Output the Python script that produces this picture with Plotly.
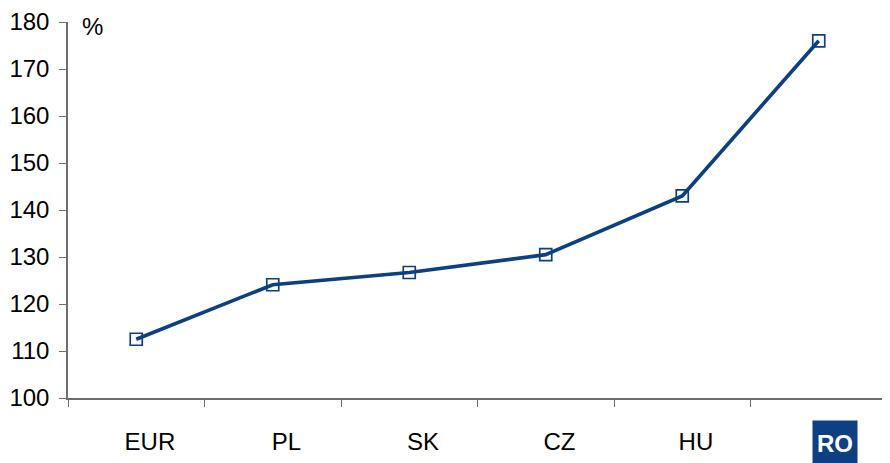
import plotly.graph_objects as go

categories = ["EUR", "PL", "SK", "CZ", "HU", "RO"]
values = [112.5, 124.1, 126.7, 130.5, 143.0, 176.0]
y_ticks = [100, 110, 120, 130, 140, 150, 160, 170, 180]
unit_label = "%"
highlight = "RO"

navy = "#0d3f83"
axis_col = "#6e6e6e"
font_fam = "Liberation Sans, Arial, sans-serif"
fs = 24

fig = go.Figure()
fig.add_trace(go.Scatter(
    x=categories, y=values, mode="lines+markers",
    line=dict(color=navy, width=3.6),
    marker=dict(symbol="square-open", size=12, color=navy, line=dict(width=1.7, color=navy)),
    showlegend=False, cliponaxis=False, hoverinfo="skip",
))
# invisible trace carrying the (slightly offset) category label axis
fig.add_trace(go.Scatter(
    x=categories, y=values, xaxis="x2", mode="markers",
    marker=dict(opacity=0), showlegend=False, hoverinfo="skip",
))

ticktext = ["" if c == highlight else c for c in categories]

fig.update_layout(
    width=882, height=455,
    margin=dict(l=60, r=3, t=14, b=65, autoexpand=False),
    paper_bgcolor="white", plot_bgcolor="white",
    font=dict(family=font_fam, size=fs, color="#000"),
    xaxis=dict(
        type="category", categoryorder="array", categoryarray=categories,
        tickmode="array", tickvals=categories, ticktext=[""] * len(categories),
        tickson="boundaries", ticks="outside", ticklen=7, tickcolor=axis_col, tickwidth=1,
        showline=True, linecolor=axis_col, linewidth=1.5, automargin=False,
        showgrid=False, zeroline=False, range=[-0.5, 5.5],
    ),
    xaxis2=dict(
        type="category", categoryorder="array", categoryarray=categories,
        overlaying="x", side="bottom", anchor="y", automargin=False,
        tickmode="array", tickvals=categories, ticktext=ticktext,
        ticks="", showline=False, showgrid=False, zeroline=False,
        range=[-0.6, 5.4], ticklabelstandoff=27,
        tickfont=dict(size=fs),
    ),
    yaxis=dict(
        range=[100, 180], tickmode="array", tickvals=y_ticks,
        ticks="outside", ticklen=7, tickcolor=axis_col, tickwidth=1,
        showline=True, linecolor=axis_col, linewidth=1.5, automargin=False,
        showgrid=False, zeroline=False, ticklabelstandoff=5,
        tickfont=dict(size=fs),
    ),
    annotations=[
        dict(text=unit_label, x=0, y=1, xref="paper", yref="paper",
             xanchor="left", yanchor="middle", xshift=12, yshift=-4,
             showarrow=False, font=dict(size=fs)),
        dict(text="<b>" + highlight + "</b>", x=highlight, y=0, xref="x2", yref="paper",
             xanchor="center", yanchor="middle", yshift=-45, xshift=3, showarrow=False,
             width=44, height=44, borderpad=0,
             bgcolor=navy, font=dict(size=fs, color="white")),
    ],
)

fig.write_html("out.html")
